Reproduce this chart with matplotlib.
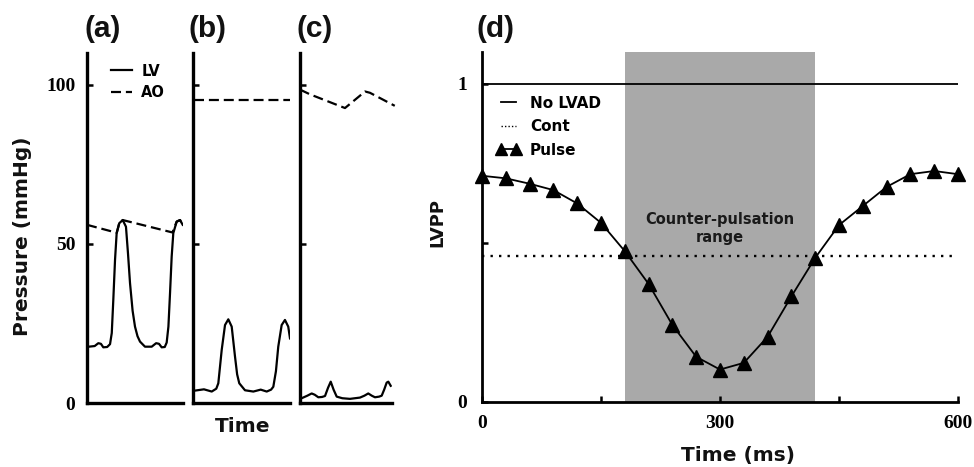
import matplotlib
matplotlib.use("Agg")
import matplotlib.pyplot as plt

# ---------------- data ----------------
# panel (a): pressure waveforms (time in % of window)
a_lv_t = [2, 8, 11.8, 14.5, 17, 21, 24, 25.8, 27.4, 29.2, 30.9, 33.6, 37.2, 40.6, 42.7, 44.8,
          47.5, 50, 52.6, 55.2, 60.4, 67.4, 72, 75, 77.8, 81, 83, 84.8, 86.5, 88.2, 89.9,
          93.4, 96.9, 99.7]
a_lv_p = [17.7, 17.9, 18.8, 18.6, 17.5, 17.6, 18.5, 22, 32.4, 45, 53.4, 56.5, 57.5, 55.4,
          47, 37.7, 29, 24, 21, 19.3, 17.7, 17.7, 18.8, 18.6, 17.5, 17.6, 19, 24, 34.6,
          46, 53.4, 57, 57.5, 56]
a_ao_t = [0, 31, 33.6, 37.2, 89, 93.4, 96.9, 99.7]
a_ao_p = [56, 53.5, 56.5, 57.5, 53.6, 57, 57.5, 56]

# panel (b)
b_lv_t = [2.1, 11.3, 19.3, 24, 26.1, 29.6, 33, 36.4, 39.9, 43.3, 45.5, 47.7, 53.6, 62.2,
          69.8, 76, 80.5, 82.8, 85.5, 87.9, 91.4, 94.8, 98.2, 100]
b_lv_p = [3.9, 4.3, 3.6, 4.5, 6.2, 16.7, 24.5, 26.3, 24, 14.6, 9, 6.2, 4, 3.6,
          4.2, 3.6, 4.2, 5.1, 10, 17.7, 24.5, 26.1, 24, 20.3]
b_ao_t = [1, 100]
b_ao_p = [95.3, 95.3]

# panel (c)
c_lv_t = [1.8, 8, 12.7, 16, 19.9, 24, 27.2, 30.5, 33.4, 36.5, 39.9, 46, 54.3, 65.2, 70,
          74.2, 78, 81.5, 86, 88.8, 91.5, 94.2, 96, 98.6]
c_lv_p = [1.5, 2.3, 3.0, 2.6, 1.8, 1.9, 2.2, 4.8, 6.7, 4.2, 2.0, 1.5, 1.3, 1.7, 2.3,
          3.0, 2.3, 1.8, 2.0, 2.3, 4.2, 6.4, 6.7, 5.4]
c_ao_t = [0, 10.9, 48.9, 70.7, 76, 103]
c_ao_p = [98.5, 97.0, 92.7, 97.9, 97.5, 93.4]

# panel (d): LVPP vs pump timing
time_ms = [0, 30, 60, 90, 120, 150, 180, 210, 240, 270, 300, 330, 360, 390, 420,
           450, 480, 510, 540, 570, 600]
lvpp_pulse = [0.711, 0.703, 0.686, 0.666, 0.624, 0.563, 0.474, 0.371, 0.242, 0.142,
              0.102, 0.123, 0.205, 0.332, 0.453, 0.556, 0.616, 0.676, 0.716, 0.726, 0.716]
lvpp_nolvad = 1.0
lvpp_cont = 0.458
cp_range = [180, 420]

panel_labels = ["(a)", "(b)", "(c)", "(d)"]

# ---------------- figure ----------------
W, H = 974, 467
fig = plt.figure(figsize=(W / 100, H / 100), dpi=100)

def ax_rect(l, r, t, b):
    return [l / W, 1 - b / H, (r - l) / W, (b - t) / H]

serif = "Liberation Serif"
bold_sans = "DejaVu Sans"
tick_fs = 14

axa = fig.add_axes(ax_rect(87, 183, 53, 403))
axb = fig.add_axes(ax_rect(193, 290, 53, 403))
axc = fig.add_axes(ax_rect(300, 392, 53, 403))
axd = fig.add_axes(ax_rect(482, 958, 52, 402))

lw_wave = 1.6
dash = (4.5, 2.2)
for ax, (lt, lp, at, ap) in zip(
        [axa, axb, axc],
        [(a_lv_t, a_lv_p, a_ao_t, a_ao_p),
         (b_lv_t, b_lv_p, b_ao_t, b_ao_p),
         (c_lv_t, c_lv_p, c_ao_t, c_ao_p)]):
    ax.plot(lt, lp, color="black", lw=lw_wave, solid_joinstyle="round", label="LV")
    ax.plot(at, ap, color="black", lw=lw_wave, dashes=dash, label="AO", clip_on=False)
    ax.set_xlim(0, 100)
    ax.set_ylim(0, 110)
    for s in ["top", "right"]:
        ax.spines[s].set_visible(False)
    for s in ["left", "bottom"]:
        ax.spines[s].set_linewidth(2.4)
    ax.set_xticks([])
    ax.set_yticks([0, 50, 100])
    ax.tick_params(axis="y", direction="in", length=4.5, width=1.8, pad=8.5)
    ax.patch.set_alpha(0)

axa.set_yticklabels(["0", "50", "100"], fontfamily=serif, fontsize=tick_fs, fontweight="bold")
axb.set_yticklabels([])
axc.set_yticklabels([])

leg_a = axa.legend(loc="upper left", bbox_to_anchor=(0.245, 0.97), frameon=False,
                   prop={"family": bold_sans, "weight": "bold", "size": 10.5},
                   handlelength=1.5, handletextpad=0.6, labelspacing=0.45,
                   borderpad=0, borderaxespad=0)

# panel (d)
axd.axvspan(cp_range[0], cp_range[1], color="#a9a9a9", lw=0, zorder=0)
axd.plot([time_ms[0], time_ms[-1]], [lvpp_nolvad, lvpp_nolvad], color="black", lw=1.3,
         label="No LVAD")
axd.plot([time_ms[0], time_ms[-1]], [lvpp_cont, lvpp_cont], color="black", lw=1.7,
         dashes=(1, 2.6), label="Cont")
axd.plot(time_ms, lvpp_pulse, color="black", lw=1.3, marker="^", markersize=9.5,
         label="Pulse", clip_on=False, zorder=5)
axd.set_xlim(0, 600)
axd.set_ylim(0, 1.1)
for s in ["top", "right"]:
    axd.spines[s].set_visible(False)
for s in ["left", "bottom"]:
    axd.spines[s].set_linewidth(2.0)
axd.set_xticks([0, 150, 300, 450, 600])
axd.set_xticklabels(["0", "", "300", "", "600"], fontfamily=serif, fontsize=tick_fs,
                    fontweight="bold")
axd.set_yticks([0, 0.5, 1])
axd.set_yticklabels(["0", "", "1"], fontfamily=serif, fontsize=tick_fs, fontweight="bold")
axd.tick_params(axis="x", direction="in", length=4, width=1.8, pad=9)
axd.tick_params(axis="y", direction="in", length=4, width=1.8, pad=11)

axd.text(sum(cp_range) / 2, 0.545, "Counter-pulsation\nrange", ha="center", va="center",
         fontfamily=bold_sans, fontweight="bold", fontsize=10.5, linespacing=1.3,
         color="#1a1a1a")

leg_d = axd.legend(loc="upper left", bbox_to_anchor=(0.03, 0.875), frameon=False,
                   prop={"family": bold_sans, "weight": "bold", "size": 11},
                   handlelength=1.6, handletextpad=0.6, labelspacing=0.55,
                   numpoints=2, borderpad=0, borderaxespad=0)
for h in leg_d.legend_handles:
    if h.get_marker() == "^":
        h.set_markersize(8.5)
    elif h.get_label() == "Cont":
        h.set_linewidth(1.0)
        h.set_dashes((1, 1.5))

# axis labels
lab = dict(fontfamily=bold_sans, fontweight="bold", fontsize=14.5, color="#111111")
fig.text(23 / W, 1 - 236 / H, "Pressure (mmHg)", rotation=90, ha="center", va="center", **lab)
fig.text(243 / W, 1 - 427 / H, "Time", ha="center", va="center", **lab)
fig.text(437 / W, 1 - 222 / H, "LVPP", rotation=90, ha="center", va="center",
         fontfamily=bold_sans, fontweight="bold", fontsize=13, color="#111111")
fig.text(738 / W, 1 - 455 / H, "Time (ms)", ha="center", va="center", **lab)

# panel labels
for lbl, x in zip(panel_labels, [84, 189, 297, 477]):
    fig.text(x / W, 1 - 29 / H, lbl, ha="left", va="center", fontfamily="Liberation Sans",
             fontweight="bold", fontsize=21.5, color="#111111")

fig.savefig("out.png", dpi=100)
